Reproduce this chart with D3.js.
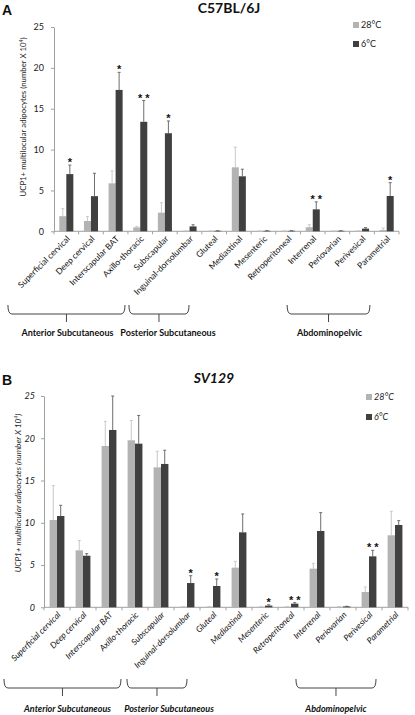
<!DOCTYPE html>
<html><head><meta charset="utf-8">
<script src="https://cdn.jsdelivr.net/npm/d3@7"></script>
<style>
html,body{margin:0;padding:0;background:#fff;}
svg{display:block;}
</style></head>
<body>
<script>
const categories = ["Superficial cervical","Deep cervical","Interscapular BAT","Axillo-thoracic","Subscapular","Inguinal-dorsolumbar","Gluteal","Mediastinal","Mesenteric","Retroperitoneal","Interrenal","Periovarian","Perivesical","Parametrial"];
const seriesNames = ["28°C","6°C"];
const yTicks = [0,5,10,15,20,25];

// Panel A: C57BL/6J
const a28 = [1.85,1.26,5.87,0.48,2.28,0.03,0.03,7.83,0.02,0.03,0.5,0.02,0.03,0.16];
const a28Err = [0.92,0.54,1.53,0.12,1.22,0.02,0.01,2.47,0.01,0.01,0.3,0.01,0.02,0.24];
const a6 = [7.0,4.3,17.3,13.4,12.0,0.6,0.05,6.73,0.06,0.06,2.69,0.05,0.33,4.32];
const a6Err = [1.1,2.8,2.15,2.6,1.5,0.2,0.02,0.87,0.02,0.02,0.91,0.02,0.12,1.63];
const aStars = ["*","","*","**","*","","","","","","**","","","*"];

// Panel B: SV129
const b28 = [10.33,6.74,19.09,19.76,16.56,0.05,0.05,4.69,0.05,0.05,4.57,0.05,1.81,8.52];
const b28Err = [4.07,1.16,2.91,2.34,1.9,0.02,0.02,0.75,0.02,0.02,0.63,0.02,0.59,2.84];
const b6 = [10.8,6.1,20.98,19.36,16.96,2.87,2.52,8.87,0.2,0.43,9.03,0.1,6.03,9.74];
const b6Err = [1.27,0.25,4.02,3.34,1.62,0.87,0.83,2.17,0.1,0.12,2.17,0.02,0.71,0.51];
const bStars = ["","","","","","*","*","","*","**","","","**",""];

const groupNames = ["Anterior Subcutaneous","Posterior Subcutaneous","Abdominopelvic"];

const colors = {"28°C":"#b3b3b3","6°C":"#404040"};
const errColors = {"28°C":"#c9c9c9","6°C":"#6e6e6e"};

const W = 415, H = 715;
const svg = d3.select("body").append("svg").attr("width",W).attr("height",H);
const FONT = "Lato, 'Liberation Sans', sans-serif";

function panel(cfg){
  const g = svg.append("g");
  const fs = cfg.italic ? "italic" : "normal";
  const x = d3.scaleBand().domain(categories).range([cfg.x0,cfg.x1]).paddingInner(0.43).paddingOuter(0.215);
  const step = x.step();
  const xs = d3.scaleBand().domain(seriesNames).range([0,x.bandwidth()]);
  const y = d3.scaleLinear().domain([0,25]).range([cfg.yB,cfg.yT]);

  // y axis
  const ya = g.append("g").attr("transform",`translate(${cfg.x0},0)`)
    .call(d3.axisLeft(y).tickValues(yTicks).tickSize(3).tickSizeOuter(0).tickPadding(cfg.tickPad));
  ya.select(".domain").attr("stroke","#a0a0a0");
  ya.selectAll(".tick line").attr("stroke","#a0a0a0");
  ya.selectAll("text").attr("font-family",FONT).attr("font-size",9).attr("font-style",fs).attr("fill","#222");

  // x axis line + boundary ticks
  g.append("line").attr("x1",cfg.x0).attr("x2",cfg.x1).attr("y1",cfg.yB).attr("y2",cfg.yB).attr("stroke","#a0a0a0");
  g.selectAll(".xt").data(d3.range(categories.length+1)).join("line")
    .attr("x1",i=>cfg.x0+i*step).attr("x2",i=>cfg.x0+i*step)
    .attr("y1",cfg.yB).attr("y2",cfg.yB+3).attr("stroke","#a0a0a0");

  const rows = categories.map((c,i)=>({c, i,
    vals:[{s:"28°C",v:cfg.v28[i],e:cfg.e28[i]},{s:"6°C",v:cfg.v6[i],e:cfg.e6[i]}]}));

  const cg = g.selectAll(".cat").data(rows).join("g").attr("transform",d=>`translate(${x(d.c)},0)`);
  // error bars
  cg.selectAll(".err").data(d=>d.vals).join("path")
    .attr("d",d=>{const cx=xs(d.s)+xs.bandwidth()/2; const t=y(d.v+d.e); return `M${cx},${y(d.v)}V${t}M${cx-1.5},${t}H${cx+1.5}`;})
    .attr("stroke",d=>errColors[d.s]).attr("stroke-width",1).attr("fill","none");
  cg.selectAll("rect").data(d=>d.vals).join("rect")
    .attr("x",d=>xs(d.s)).attr("width",xs.bandwidth())
    .attr("y",d=>y(Math.max(d.v,0.06))).attr("height",d=>cfg.yB-y(Math.max(d.v,0.06)))
    .attr("fill",d=>colors[d.s]);

  // significance stars
  g.selectAll(".star").data(rows.filter(r=>cfg.stars[r.i])).join("text")
    .attr("x",d=>x(d.c)+xs("6°C")+xs.bandwidth()/2)
    .attr("y",d=>y(d.vals[1].v+d.vals[1].e)+1)
    .attr("text-anchor","middle").attr("font-family","'Liberation Sans', Arial, sans-serif")
    .attr("font-size",11).attr("font-weight","bold").attr("fill","#111")
    .text(d=>cfg.stars[d.i].split("").join(" "));

  // category labels
  g.selectAll(".cl").data(categories).join("text")
    .attr("transform",d=>`translate(${x(d)+x.bandwidth()/2+cfg.lblDx},${cfg.yB+cfg.lblDy}) rotate(-45)`)
    .attr("text-anchor","end").attr("dy","0.35em")
    .attr("font-family",FONT).attr("font-size",cfg.lblSize).attr("font-style",fs).attr("fill","#111")
    .text(d=>d);

  // y title
  g.append("text").attr("transform",`translate(${cfg.ytX},${cfg.ytY}) rotate(-90)`)
    .attr("text-anchor","middle").attr("font-family",FONT).attr("font-size",cfg.ytSize).attr("font-style",fs).attr("fill","#222")
    .html("UCP1+ multilocular adipocytes (number X 10<tspan dy='-3' font-size='5'>4</tspan><tspan dy='3'>)</tspan>");

  // title + panel letter
  g.append("text").attr("x",cfg.titleX).attr("y",cfg.titleY).attr("text-anchor","middle")
    .attr("font-family","Lato, 'Liberation Sans', sans-serif").attr("font-weight","bold").attr("font-style",fs)
    .attr("font-size",14).attr("fill","#111").text(cfg.title);
  g.append("text").attr("x",2).attr("y",cfg.titleY+2).attr("font-family","'Liberation Sans', Arial, sans-serif")
    .attr("font-weight","bold").attr("font-size",14).attr("fill","#111").text(cfg.letter);

  // legend
  const lg = g.selectAll(".lg").data(seriesNames).join("g")
    .attr("transform",(d,i)=>`translate(${cfg.legX},${cfg.legY+i*cfg.legGap})`);
  lg.append("rect").attr("x",0).attr("y",-3).attr("width",6).attr("height",6).attr("fill",d=>colors[d]);
  lg.append("text").attr("x",8).attr("dy","0.35em").attr("font-family",FONT).attr("font-size",9)
    .attr("font-style",fs).attr("fill","#222").text(d=>d);

  // group brackets
  cfg.brackets.forEach((b,k)=>{
    const x1 = cfg.x0 + b[0]*step, x2 = cfg.x0 + b[1]*step, cx = (x1+x2)/2;
    const t = cfg.brY, bt = cfg.brY+9;
    g.append("path")
      .attr("d",`M${x1},${t}Q${x1},${bt} ${x1+4},${bt}H${x2-4}Q${x2},${bt} ${x2},${t}M${cx},${bt}V${bt+8}`)
      .attr("fill","none").attr("stroke","#444").attr("stroke-width",1);
    g.append("text").attr("x",cx+b[2]).attr("y",cfg.grY).attr("text-anchor","middle")
      .attr("font-family",FONT).attr("font-weight","bold").attr("font-style",fs).attr("font-size",9).attr("fill","#111")
      .text(groupNames[k]);
  });
}

panel({x0:54,x1:399,yT:27,yB:231.3,v28:a28,e28:a28Err,v6:a6,e6:a6Err,stars:aStars,italic:false,
  tickPad:7,lblDx:2,lblDy:6,lblSize:8.5,ytX:26,ytY:117,ytSize:7.8,
  title:"C57BL/6J",letter:"A",titleX:229,titleY:13,legX:353,legY:25,legGap:19,
  brackets:[[-1.87,2.88,1],[3.04,5.48,9],[9.46,12.82,1]],brY:305,grY:336});

panel({x0:44,x1:408,yT:396,yB:607.3,v28:b28,e28:b28Err,v6:b6,e6:b6Err,stars:bStars,italic:true,
  tickPad:6,lblDx:2,lblDy:6,lblSize:8.5,ytX:21,ytY:493,ytSize:8.2,
  title:"SV129",letter:"B",titleX:214,titleY:383,legX:366,legY:397,legGap:20,
  brackets:[[-1.54,2.96,5],[3.19,5.5,12],[9.69,12.77,0]],brY:679,grY:712});
</script>
</body></html>
